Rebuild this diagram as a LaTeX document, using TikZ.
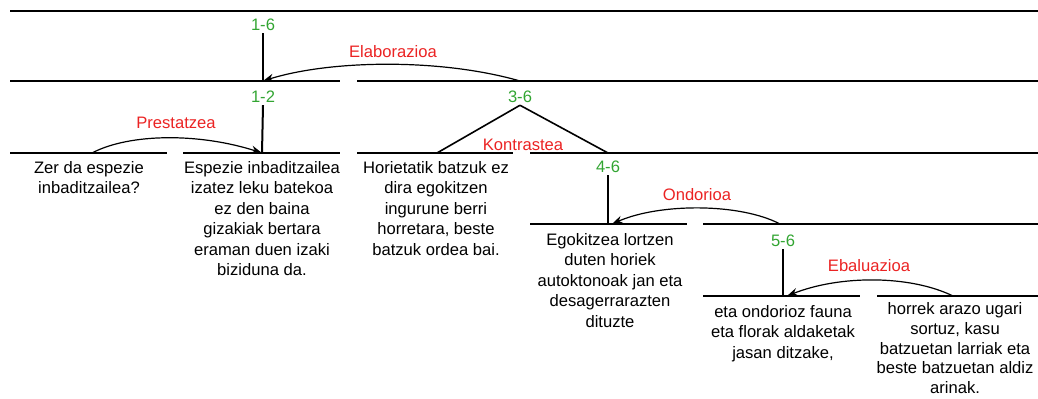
\documentclass[tikz,border=0pt]{standalone}
\usepackage{fontspec}
\setmainfont{Liberation Sans}
\usetikzlibrary{arrows.meta}
\definecolor{spangreen}{RGB}{50,165,50}
\definecolor{relred}{RGB}{235,35,35}
\tikzset{
    span/.style={line width=1pt},
    num/.style={text=spangreen,font=\fontsize{8.3}{10}\selectfont,inner sep=1pt},
    rel/.style={text=relred,font=\fontsize{8.3}{10}\selectfont,inner sep=1pt},
    seg/.style={align=center,anchor=north,font=\fontsize{8.3}{10.2}\selectfont,inner sep=1pt},
    relarrow/.style={-{Stealth[length=5.5pt,width=4pt]},line width=0.6pt},
}
\begin{document}
\begin{tikzpicture}[x=0.5pt,y=-0.5pt]
    \useasboundingbox (0,0) rectangle (1038,399);
    
    % span lines
    \draw[span] (10,11) -- (1038,11);
    \draw[span] (10,81) -- (340,81);
    \draw[span] (357,81) -- (1038,81);
    \draw[span] (10,153) -- (167,153);
    \draw[span] (183,153) -- (340,153);
    \draw[span] (357,153) -- (513,153);
    \draw[span] (530,153) -- (1038,153);
    \draw[span] (530,224) -- (687,224);
    \draw[span] (703,224) -- (1038,224);
    \draw[span] (703,296) -- (860,296);
    \draw[span] (877,296) -- (1038,296);
    
    % attachment points
    \coordinate (p12) at (263,81);
    \coordinate (p36) at (520,81);
    \coordinate (p1) at (92,153);
    \coordinate (p2) at (262,153);
    \coordinate (p3) at (437,153);
    \coordinate (p46) at (608,153);
    \coordinate (p4) at (608,224);
    \coordinate (p56) at (780,224);
    \coordinate (p5) at (783,296);
    \coordinate (p6) at (953,296);
    
    % span numbers
    \node[num] (n16) at (263,25) {1-6};
    \node[num] (n12) at (263,97) {1-2};
    \node[num] (n36) at (520,97) {3-6};
    \node[num] (n46) at (608,167) {4-6};
    \node[num] (n56) at (783,241) {5-6};
    
    \draw[span] (n16.south) -- (p12);
    \draw[span] (n12.south) -- (p2);
    \draw[line width=0.8pt] (n36.south) -- (p3);
    \draw[line width=0.8pt] (n36.south) -- (p46);
    \draw[span] (n46.south) -- (p4);
    \draw[span] (n56.south) -- (p5);
    
    % relations
    \node[rel] (elab) at (393,52) {Elaborazioa};
    \node[rel] (prep) at (176,123) {Prestatzea};
    \node[rel] (kont) at (523,145) {Kontrastea};
    \node[rel] (ondo) at (697,195) {Ondorioa};
    \node[rel] (ebal) at (869,266) {Ebaluazioa};
    
    \draw[relarrow] (p36) .. controls (440,58) and (330,60) .. (p12);
    \draw[relarrow] (p1) .. controls (130,133) and (200,133) .. (p2);
    \draw[relarrow] (p56) .. controls (740,203) and (660,203) .. ([xshift=2pt]p4);
    \draw[relarrow] (p6) .. controls (910,275) and (840,275) .. ([xshift=2pt]p5);
    
    % segments
    \node[seg] (s1) at (89,159) {Zer da espezie\\inbaditzailea?};
    \node[seg] (s2) at (262,159) {Espezie inbaditzailea\\izatez leku batekoa\\ez den baina\\gizakiak bertara\\eraman duen izaki\\biziduna da.};
    \node[seg] (s3) at (436,159) {Horietatik batzuk ez\\dira egokitzen\\ingurune berri\\horretara, beste\\batzuk ordea bai.};
    \node[seg] (s4) at (610,231) {Egokitzea lortzen\\duten horiek\\autoktonoak jan eta\\desagerrarazten\\dituzte};
    \node[seg] (s5) at (783,303) {eta ondorioz fauna\\eta florak aldaketak\\jasan ditzake,};
    \node[seg,font=\fontsize{8.3}{9.9}\selectfont] (s6) at (955,300) {horrek arazo ugari\\sortuz, kasu\\batzuetan larriak eta\\beste batzuetan aldiz\\arinak.};
    
\end{tikzpicture}
\end{document}
